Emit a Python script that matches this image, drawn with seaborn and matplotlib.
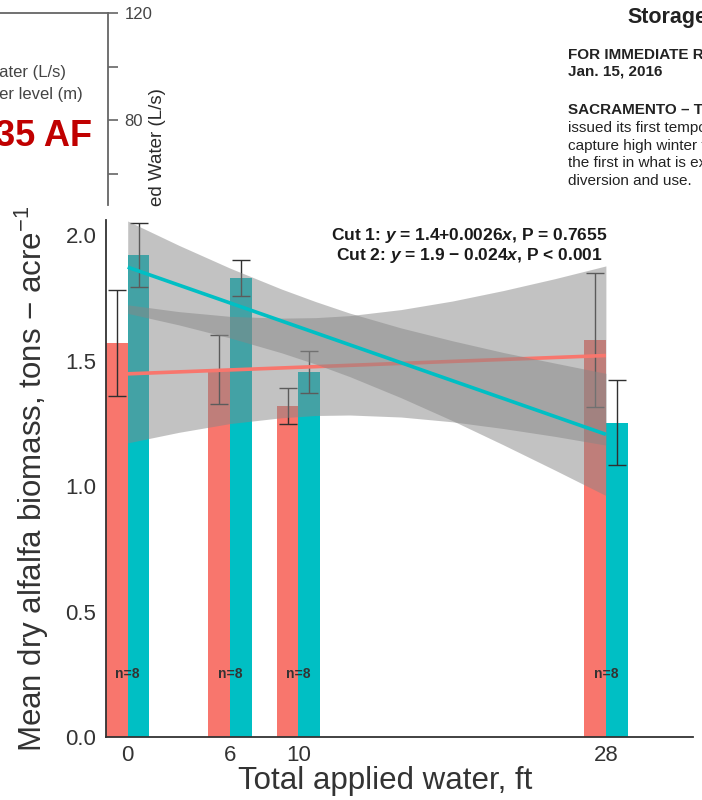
import numpy as np
import pandas as pd
import matplotlib
matplotlib.use("Agg")
import matplotlib.pyplot as plt
import seaborn as sns

# bar data (means and standard errors)
water_ft = [0, 6, 10, 28]
cuts = ["Cut 1", "Cut 2"]
cut1_mean = [1.57, 1.465, 1.32, 1.58]
cut1_se = [0.21, 0.138, 0.071, 0.267]
cut2_mean = [1.92, 1.83, 1.453, 1.252]
cut2_se = [0.127, 0.071, 0.084, 0.17]
n_labels = ["n=8", "n=8", "n=8", "n=8"]

# fitted lines and their confidence bands
fit_x = [0, 28]
cut1_fit = [1.447, 1.520]
cut2_fit = [1.872, 1.206]
band_x = [0, 3, 6, 9, 11, 13, 16, 19, 22, 25, 28]
cut1_lo = [1.172, 1.214, 1.249, 1.272, 1.281, 1.283, 1.275, 1.256, 1.229, 1.198, 1.163]
cut1_hi = [1.722, 1.695, 1.676, 1.669, 1.671, 1.679, 1.703, 1.737, 1.779, 1.826, 1.877]
cut2_lo = [1.688, 1.642, 1.590, 1.531, 1.486, 1.436, 1.352, 1.261, 1.164, 1.064, 0.962]
cut2_hi = [2.056, 1.959, 1.868, 1.785, 1.735, 1.689, 1.630, 1.579, 1.532, 1.490, 1.449]

eq_labels = [r"Cut 1: $\mathbfit{y}$ = 1.4+0.0026$\mathbfit{x}$, P = 0.7655",
             r"Cut 2: $\mathbfit{y}$ = 1.9 − 0.024$\mathbfit{x}$, P < 0.001"]

# fragments of the neighbouring figure / press release in the collage
frag_ticks = [120, 100, 80, 60]
frag_labels = ["120", "", "80", ""]
press_lines = ["issued its first temporary permit to",
               "capture high winter flows for storage,",
               "the first in what is expected to be",
               "diversion and use."]

sns.set_style("white")
plt.rcParams["font.family"] = ["Liberation Sans", "DejaVu Sans"]
plt.rcParams["mathtext.fontset"] = "custom"
plt.rcParams["mathtext.rm"] = "Liberation Sans"
plt.rcParams["mathtext.it"] = "Liberation Sans:italic"
plt.rcParams["mathtext.bf"] = "Liberation Sans:bold"
plt.rcParams["mathtext.bfit"] = "Liberation Sans:italic:bold"

W, H = 702, 800
fig = plt.figure(figsize=(W / 100, H / 100), dpi=100)


def fx(px):
    return px / W


def fy(py):
    return 1 - py / H


salmon, teal = "#F8766D", "#00BFC4"
dark = "#333333"

# ---- top-left fragment: an axis with ticks on its right side
axf = fig.add_axes([fx(-20), fy(205), fx(128), fy(13) - fy(205)])
axf.set_xlim(0, 1)
axf.set_ylim(120 - 192 / 2.675, 120)
for s in ["left", "bottom"]:
    axf.spines[s].set_visible(False)
for s in ["top", "right"]:
    axf.spines[s].set_color("#666666")
    axf.spines[s].set_linewidth(1.3)
axf.set_xticks([])
axf.yaxis.tick_right()
axf.set_yticks(frag_ticks)
axf.set_yticklabels(frag_labels, fontsize=12, color="#444444")
axf.tick_params(axis="y", length=7, width=1.2, color="#666666", pad=5)
axf.patch.set_alpha(0)

fig.text(fx(66), fy(72), "Water (L/s)", ha="right", va="center", fontsize=12, color="#444444")
fig.text(fx(83), fy(95), "Water level (m)", ha="right", va="center", fontsize=12, color="#444444")
fig.text(fx(92), fy(137), "235 AF", ha="right", va="center", fontsize=26,
         fontweight="bold", color="#C00000")
fig.text(fx(157), fy(88), "ed Water (L/s)", rotation=90, ha="center", va="top",
         fontsize=13.5, color="#2a2a2a")

# ---- top-right fragment: press release text
fig.text(fx(627), fy(17), "Storage", ha="left", va="center", fontsize=15.5,
         fontweight="bold", color="#222222")
fig.text(fx(568), fy(55), "FOR IMMEDIATE RELEASE", ha="left", va="center",
         fontsize=11, fontweight="bold", color="#222222")
fig.text(fx(568), fy(72), "Jan. 15, 2016", ha="left", va="center",
         fontsize=11, fontweight="bold", color="#222222")
fig.text(fx(568), fy(110), "SACRAMENTO – The State", ha="left", va="center",
         fontsize=11, fontweight="bold", color="#222222")
for i, line in enumerate(press_lines):
    fig.text(fx(568), fy(128 + i * 17.7), line, ha="left", va="center",
             fontsize=11, color="#222222")

# ---- main chart
ax = fig.add_axes([fx(106), fy(737), fx(693) - fx(106), fy(220) - fy(737)])

df = pd.DataFrame({
    "water": water_ft * 2,
    "cut": [cuts[0]] * 4 + [cuts[1]] * 4,
    "biomass": cut1_mean + cut2_mean,
})

sns.barplot(data=df, x="water", y="biomass", hue="cut", native_scale=True,
            width=0.635, palette=[salmon, teal], saturation=1, errorbar=None,
            legend=False, ax=ax, zorder=1, linewidth=0, edgecolor="none")

for cont, means, ses in zip(ax.containers, [cut1_mean, cut2_mean], [cut1_se, cut2_se]):
    centers = [p.get_x() + p.get_width() / 2 for p in cont.patches]
    ax.errorbar(centers, means, yerr=ses, fmt="none", ecolor="#303030",
                elinewidth=1.0, capsize=6.5, capthick=1.0, zorder=2)

ax.fill_between(band_x, cut1_lo, cut1_hi, color="#878787", alpha=0.5, lw=0, zorder=3)
ax.plot(fit_x, cut1_fit, color=salmon, lw=2.6, zorder=3.1, solid_capstyle="butt")
ax.fill_between(band_x, cut2_lo, cut2_hi, color="#878787", alpha=0.5, lw=0, zorder=3.2)
ax.plot(fit_x, cut2_fit, color=teal, lw=2.6, zorder=3.3, solid_capstyle="butt")

for x, lab in zip(water_ft, n_labels):
    ax.text(x, 0.25, lab, ha="center", va="center", fontsize=10,
            fontweight="bold", color=dark, zorder=5)

ax.text(20, 2.0, eq_labels[0], ha="center", va="center", fontsize=12.5,
        fontweight="bold", color="#1a1a1a")
ax.text(20, 1.92, eq_labels[1], ha="center", va="center", fontsize=12.5,
        fontweight="bold", color="#1a1a1a")

ax.set_xlim(-1.27, 33.1)
ax.set_ylim(0, 2.06)
ax.set_xticks(water_ft)
ax.set_xticklabels([str(v) for v in water_ft])
ax.set_yticks([0, 0.5, 1.0, 1.5, 2.0])
ax.set_yticklabels(["0.0", "0.5", "1.0", "1.5", "2.0"])
ax.tick_params(labelsize=16, length=5, width=1.1, color=dark, labelcolor=dark)
ax.tick_params(axis="x", pad=0.5)
ax.tick_params(axis="y", pad=2)
for s in ["top", "right"]:
    ax.spines[s].set_visible(False)
for s in ["left", "bottom"]:
    ax.spines[s].set_color(dark)
    ax.spines[s].set_linewidth(1.3)

ax.set_xlabel("Total applied water, ft", fontsize=22.5, color=dark)
ax.set_ylabel(r"Mean dry alfalfa biomass, tons $-$ acre$^{-1}$", fontsize=22.5, color=dark)
ax.xaxis.set_label_coords(0.475, -0.057)
ax.yaxis.set_label_coords(-0.094, 0.5)

fig.savefig("out.png", dpi=100)
